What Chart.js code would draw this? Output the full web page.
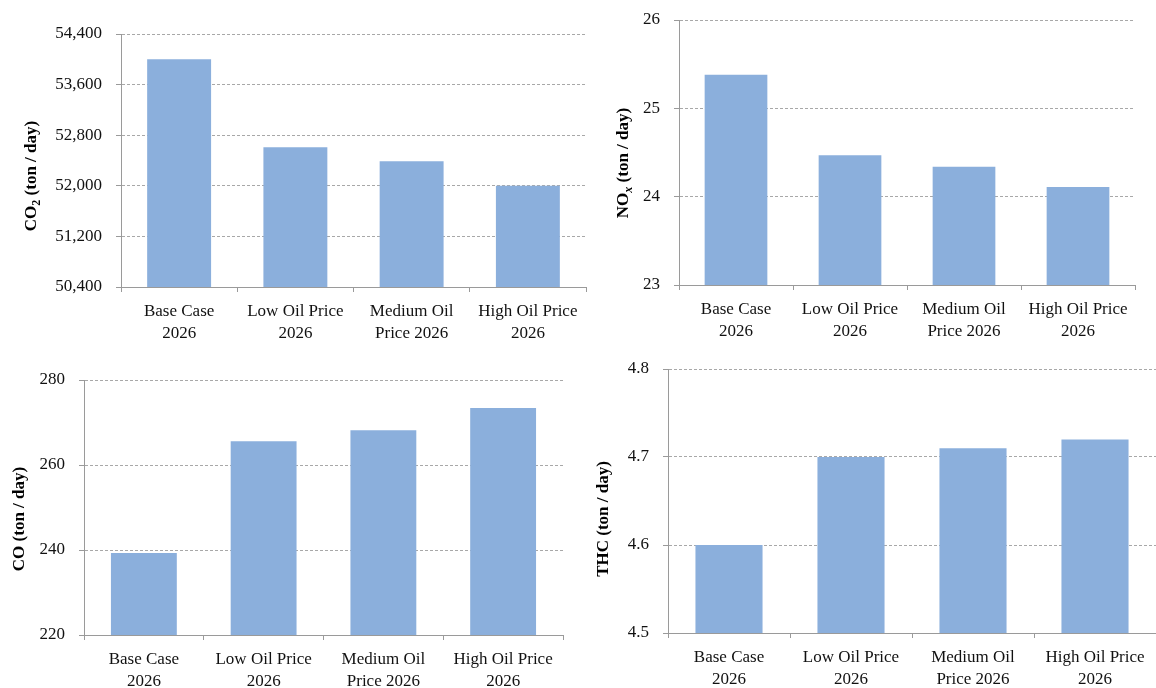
<!DOCTYPE html>
<html>
<head>
<meta charset="utf-8">
<script src="https://cdn.jsdelivr.net/npm/chart.js@4.4.1/dist/chart.umd.min.js"></script>
<style>
  body { margin: 0; background: #fff; }
  #wrap { position: relative; width: 1156px; height: 688px; overflow: hidden; }
  canvas { position: absolute; }
</style>
</head>
<body>
<div id="wrap">
  <canvas id="c1" width="600" height="345" style="left:0;top:0"></canvas>
  <canvas id="c2" width="576" height="345" style="left:580px;top:0"></canvas>
  <canvas id="c3" width="600" height="343" style="left:0;top:345px"></canvas>
  <canvas id="c4" width="576" height="343" style="left:580px;top:345px"></canvas>
</div>
<script>
// data
var categories = [
  ['Base Case', '2026'],
  ['Low Oil Price', '2026'],
  ['Medium Oil', 'Price 2026'],
  ['High Oil Price', '2026']
];
var co2Values = [54000, 52610, 52390, 52000];
var noxValues = [25.38, 24.47, 24.34, 24.11];
var coValues = [239.3, 265.6, 268.2, 273.4];
var thcValues = [4.60, 4.70, 4.71, 4.72];

var co2Ticks = [50400, 51200, 52000, 52800, 53600, 54400];
var noxTicks = [23, 24, 25, 26];
var coTicks = [220, 240, 260, 280];
var thcTicks = [4.5, 4.6, 4.7, 4.8];

var barColor = 'rgb(139,175,220)';
var gridColor = '#a8a8a8';
var axisColor = '#9a9a9a';
var serif = '"Liberation Serif", "Times New Roman", serif';

// draws the rotated y title, with a subscript part
var yTitlePlugin = {
  id: 'yTitle',
  afterDraw: function(chart, args, o) {
    var ctx = chart.ctx;
    var big = 'bold 17px ' + serif;
    var small = (o.subItalic ? 'italic ' : '') + 'bold 12px ' + serif;
    ctx.save();
    ctx.font = big;
    var w1 = ctx.measureText(o.pre).width;
    var w3 = ctx.measureText(o.post).width;
    ctx.font = small;
    var w2 = o.sub ? ctx.measureText(o.sub).width : 0;
    var total = w1 + w2 + w3;
    ctx.translate(o.x, o.y);
    ctx.rotate(-Math.PI / 2);
    ctx.fillStyle = '#000';
    ctx.textBaseline = 'alphabetic';
    ctx.textAlign = 'left';
    var x = -total / 2;
    ctx.font = big;
    ctx.fillText(o.pre, x, 6);
    x += w1;
    if (o.sub) {
      ctx.font = small;
      ctx.fillText(o.sub, x, 10);
      x += w2;
    }
    ctx.font = big;
    ctx.fillText(o.post, x, 6);
    ctx.restore();
  }
};

function makeChart(id, values, ticks, fmt, box, title) {
  var cv = document.getElementById(id);
  return new Chart(cv.getContext('2d'), {
    type: 'bar',
    data: {
      labels: categories,
      datasets: [{
        data: values,
        backgroundColor: barColor,
        borderWidth: 0,
        barPercentage: 0.55,
        categoryPercentage: 1
      }]
    },
    options: {
      responsive: false,
      animation: false,
      devicePixelRatio: 1,
      layout: { padding: { top: box.top, right: box.right, left: 0, bottom: 0 } },
      plugins: {
        legend: { display: false },
        tooltip: { enabled: false },
        yTitle: title
      },
      scales: {
        x: {
          offset: true,
          grid: { display: true, drawOnChartArea: false, drawTicks: true, tickLength: 5, color: axisColor, offset: true },
          border: { display: true, color: axisColor, width: 1 },
          ticks: {
            color: '#111',
            padding: 8,
            maxRotation: 0,
            autoSkip: false,
            font: { family: serif, size: 17, lineHeight: 1.3 }
          },
          afterFit: function(s) { s.height = box.xh; }
        },
        y: {
          min: ticks[0],
          max: ticks[ticks.length - 1],
          afterBuildTicks: function(s) {
            s.ticks = ticks.map(function(v) { return { value: v }; });
          },
          grid: { color: gridColor, tickLength: 5, tickColor: axisColor, tickBorderDash: [] },
          border: { display: true, color: axisColor, width: 1, dash: [3, 2] },
          ticks: {
            color: '#111',
            padding: 14,
            font: { family: serif, size: 17 },
            callback: fmt
          },
          afterFit: function(s) {
            s.width = box.left;
            s.paddingTop = 0;
            s.paddingBottom = 0;
          }
        }
      }
    },
    plugins: [yTitlePlugin]
  });
}

makeChart('c1', co2Values, co2Ticks,
  function(v) { return Number(v).toLocaleString('en-US'); },
  { left: 121, top: 34, right: 14, xh: 58 },
  { pre: 'CO', sub: '2', post: ' (ton / day)', x: 30, y: 176 });

makeChart('c2', noxValues, noxTicks,
  function(v) { return String(Math.round(v)); },
  { left: 99, top: 20, right: 21, xh: 60 },
  { pre: 'NO', sub: 'x', subItalic: true, post: ' (ton / day)', x: 42, y: 163 });

makeChart('c3', coValues, coTicks,
  function(v) { return String(Math.round(v)); },
  { left: 84, top: 35, right: 37, xh: 53 },
  { pre: 'CO (ton / day)', sub: '', post: '', x: 18, y: 174 });

makeChart('c4', thcValues, thcTicks,
  function(v) { return Number(v).toFixed(1); },
  { left: 88, top: 24, right: 0, xh: 55 },
  { pre: 'THC (ton / day)', sub: '', post: '', x: 22, y: 174 });
</script>
</body>
</html>
